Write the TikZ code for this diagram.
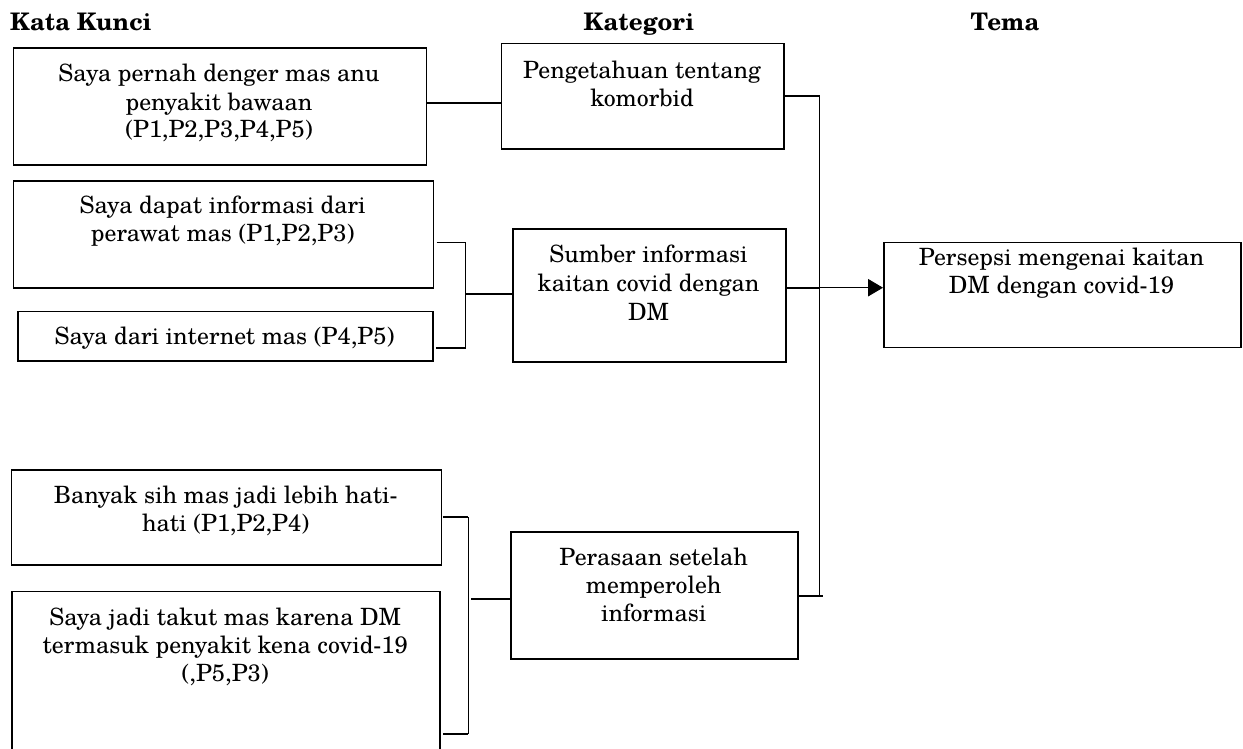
\documentclass[tikz,border=0pt]{standalone}
\usepackage{fontspec}
\setmainfont{texgyreschola}[Extension=.otf,UprightFont=*-regular,BoldFont=*-bold,ItalicFont=*-italic,BoldItalicFont=*-bolditalic]
\usetikzlibrary{arrows.meta}
\newcommand\fsz{\fontsize{23.8}{28}\selectfont}
\newcommand\tsz{\fontsize{24.2}{28}\selectfont}
\newcommand\mkbox[5]{\node[box, anchor=north west, minimum width={#4pt-#2pt}, minimum height={#5pt-#3pt}] (#1) at (#2,#3) {};}
\begin{document}
\begin{tikzpicture}[x=1pt,y=-1pt,
  box/.style={draw, line width=1.6pt, inner sep=0pt},
  txt/.style={font=\fsz, inner sep=0pt, anchor=base},
  ttl/.style={font=\tsz\bfseries, inner sep=0pt, anchor=base},
  thk/.style={line width=2pt},
  thn/.style={line width=1pt}]
\useasboundingbox (0,0) rectangle (1243,748);
% titles
\node[ttl, anchor=base west] (h1) at (10,30) {Kata Kunci};
\node[ttl] (h2) at (639,30) {Kategori};
\node[ttl] (h3) at (1005,30) {Tema};
% boxes
\mkbox{b1}{12.7}{47.3}{425.7}{164}
\mkbox{b2}{12.7}{180}{432.7}{287.3}
\mkbox{b3}{17.3}{310.7}{432}{360}
\mkbox{b4}{10.7}{469}{440.7}{564.3}
\mkbox{b5}{11}{590.7}{439.3}{756}
\mkbox{k1}{500.7}{42.7}{783.3}{148.3}
\mkbox{k2}{512}{228}{785}{361}
\mkbox{k3}{510}{531}{797.3}{658.3}
\mkbox{t1}{883}{241.7}{1240}{346.7}
% texts
\node[txt] (b1a) at (219,81.7) {Saya pernah denger mas anu};
\node[txt] (b1b) at (219,110) {penyakit bawaan};
\node[txt] (b1c) at (219,137.5) {(P1,P2,P3,P4,P5)};
\node[txt] (b2a) at (222.7,213) {Saya dapat informasi dari};
\node[txt] (b2b) at (222.7,241.5) {perawat mas (P1,P2,P3)};
\node[txt] (b3a) at (224.6,344) {Saya dari internet mas (P4,P5)};
\node[txt] (b4a) at (225.7,503.3) {Banyak sih mas jadi lebih hati-};
\node[txt] (b4b) at (225.7,531.7) {hati (P1,P2,P4)};
\node[txt] (b5a) at (225.2,625) {Saya jadi takut mas karena DM};
\node[txt] (b5b) at (225.2,653.3) {termasuk penyakit kena covid-19};
\node[txt] (b5c) at (225.2,681.7) {(,P5,P3)};
\node[txt] (k1a) at (642,78) {Pengetahuan tentang};
\node[txt] (k1b) at (642,106) {komorbid};
\node[txt] (k2a) at (648.5,262.7) {Sumber informasi};
\node[txt] (k2b) at (648.5,291.5) {kaitan covid dengan};
\node[txt] (k2c) at (648.5,320.5) {DM};
\node[txt] (k3a) at (653.7,565) {Perasaan setelah};
\node[txt] (k3b) at (653.7,593.3) {memperoleh};
\node[txt] (k3c) at (653.7,621.7) {informasi};
\node[txt] (t1a) at (1061.5,265.7) {Persepsi mengenai kaitan};
\node[txt] (t1b) at (1061.5,293.3) {DM dengan covid-19};
% junction coordinates
\coordinate (v1) at (819.3,95.7);
\coordinate (v3) at (819.3,596);
\coordinate (g2t) at (465.7,242);
\coordinate (g2b) at (465.7,347.7);
\coordinate (g3t) at (468.3,517.3);
\coordinate (g3b) at (468.3,734);
% connectors
\draw[thk] (b1.east |- 0,102.7) -- (k1.west |- 0,102.7);
\draw[thn] ([xshift=2.3pt]b2.east |- g2t) -- (g2t) -- (g2b);
\draw[thk] ([xshift=2.3pt]b3.east |- g2b) -- (g2b);
\draw[thk] (g2t |- 0,294.3) -- (k2.west |- 0,294.3);
\draw[thk] ([xshift=0.5pt]b4.east |- g3t) -- (g3t);
\draw[thn] (g3t) -- (g3b);
\draw[thk] ([xshift=2.4pt]b5.east |- g3b) -- (g3b);
\draw[thk] ([xshift=2.7pt]g3t |- 0,599.3) -- (k3.west |- 0,599.3);
\draw[thk] (k1.east |- v1) -- ([xshift=0.8pt]v1);
\draw[thn] (v1) -- (v3);
\draw[thk] (k2.east |- 0,287.7) -- (v1 |- 0,287.7);
\draw[thn, -{Triangle[length=15pt,width=17.4pt]}] (v1 |- 0,287.7) -- (t1.west |- 0,287.7);
\draw[thk] (k3.east |- v3) -- ([xshift=3.4pt]v3);
\end{tikzpicture}
\end{document}
